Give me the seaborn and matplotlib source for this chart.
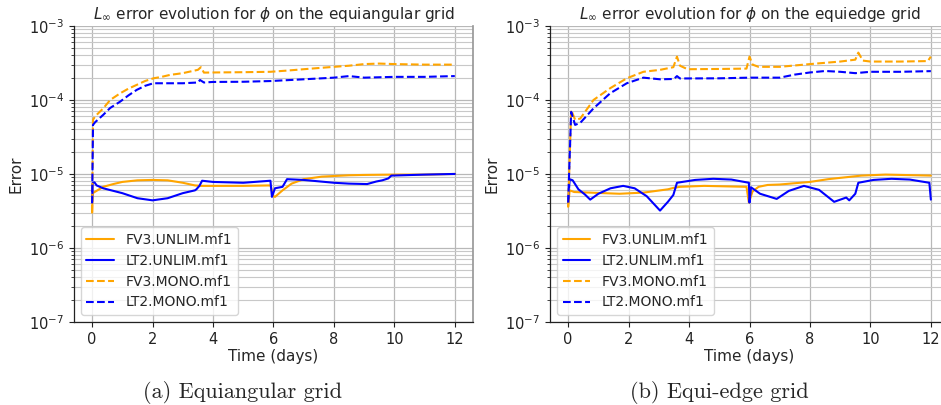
import matplotlib
matplotlib.use("Agg")
import matplotlib.pyplot as plt
import seaborn as sns
import pandas as pd

# ---------------- data ----------------
series_names = ["FV3.UNLIM.mf1", "LT2.UNLIM.mf1", "FV3.MONO.mf1", "LT2.MONO.mf1"]
panel_titles = [r"$L_\infty$ error evolution for $\phi$ on the equiangular grid",
                r"$L_\infty$ error evolution for $\phi$ on the equiedge grid"]
captions = ["(a) Equiangular grid", "(b) Equi-edge grid"]
x_ticks = [0, 2, 4, 6, 8, 10, 12]

# Panel (a): equiangular grid
a_fv3u_t = [0, 0.02, 0.37, 0.7, 1.0, 1.5, 2.0, 2.5, 3.0, 3.4, 3.6, 4.0, 5.0, 5.9, 6.0, 6.05,
            6.3, 6.6, 7.0, 7.6, 8.5, 9.0, 10.0, 11.0, 12.0]
a_fv3u_v = [3.0e-6, 5.5e-6, 6.7e-6, 7.3e-6, 7.8e-6, 8.2e-6, 8.3e-6, 8.2e-6, 7.6e-6, 7.0e-6,
            6.9e-6, 6.9e-6, 6.9e-6, 7.0e-6, 5.0e-6, 4.9e-6, 6.0e-6, 7.4e-6, 8.5e-6, 9.2e-6,
            9.6e-6, 9.7e-6, 9.8e-6, 9.8e-6, 1.0e-5]

a_lt2u_t = [0, 0.02, 0.08, 0.15, 0.37, 1.0, 1.5, 2.0, 2.5, 3.0, 3.4, 3.45, 3.55, 3.64, 4.0,
            5.0, 5.9, 5.95, 6.05, 6.3, 6.45, 7.0, 8.0, 8.5, 9.1, 9.4, 9.6, 9.8, 9.9, 11.0, 12.0]
a_lt2u_v = [4.2e-6, 7.6e-6, 7.7e-6, 7.0e-6, 6.4e-6, 5.5e-6, 4.7e-6, 4.4e-6, 4.7e-6, 5.5e-6,
            6.0e-6, 6.2e-6, 6.9e-6, 8.1e-6, 7.8e-6, 7.6e-6, 8.1e-6, 4.9e-6, 6.4e-6, 6.7e-6,
            8.5e-6, 8.3e-6, 7.6e-6, 7.4e-6, 7.3e-6, 7.9e-6, 8.2e-6, 8.7e-6, 9.5e-6, 9.8e-6, 1.0e-5]

a_fv3m_t = [0, 0.03, 0.1, 0.37, 0.6, 0.93, 1.2, 1.48, 1.75, 2.03, 2.3, 2.58, 3.0, 3.5, 3.6,
            3.7, 4.0, 5.0, 5.9, 6.5, 7.0, 7.5, 8.0, 8.5, 9.0, 9.5, 10.0, 11.0, 12.0]
a_fv3m_v = [3.0e-6, 5.4e-5, 6.0e-5, 7.7e-5, 1.0e-4, 1.23e-4, 1.42e-4, 1.6e-4, 1.8e-4, 1.96e-4,
            2.05e-4, 2.18e-4, 2.3e-4, 2.55e-4, 2.77e-4, 2.34e-4, 2.35e-4, 2.37e-4, 2.4e-4,
            2.5e-4, 2.6e-4, 2.7e-4, 2.8e-4, 2.9e-4, 3.05e-4, 3.1e-4, 3.05e-4, 3.0e-4, 3.0e-4]

a_lt2m_t = [0, 0.03, 0.1, 0.37, 0.6, 0.93, 1.2, 1.48, 1.75, 2.03, 2.58, 3.0, 3.5, 3.57, 3.7,
            4.0, 5.0, 5.9, 7.0, 8.0, 8.5, 9.0, 10.0, 11.0, 12.0]
a_lt2m_v = [4.0e-6, 4.6e-5, 5.0e-5, 6.3e-5, 7.8e-5, 9.5e-5, 1.15e-4, 1.37e-4, 1.55e-4, 1.68e-4,
            1.68e-4, 1.68e-4, 1.72e-4, 1.86e-4, 1.72e-4, 1.75e-4, 1.76e-4, 1.8e-4, 1.9e-4,
            2.0e-4, 2.1e-4, 2.0e-4, 2.05e-4, 2.05e-4, 2.1e-4]

# Panel (b): equi-edge grid
b_fv3u_t = [0, 0.05, 0.2, 0.7, 1.7, 2.5, 3.3, 3.5, 3.7, 4.5, 5.9, 5.98, 6.1, 6.3, 6.6, 7.0,
            8.0, 8.6, 9.7, 10.5, 11.0, 12.0]
b_fv3u_v = [3.6e-6, 6.0e-6, 5.7e-6, 5.6e-6, 5.4e-6, 5.6e-6, 6.2e-6, 6.5e-6, 6.7e-6, 6.9e-6,
            6.7e-6, 4.1e-6, 5.8e-6, 6.7e-6, 7.1e-6, 7.2e-6, 7.8e-6, 8.5e-6, 9.5e-6, 9.8e-6,
            9.7e-6, 9.5e-6]

b_lt2u_t = [0, 0.05, 0.15, 0.34, 0.55, 0.73, 1.0, 1.4, 1.82, 2.2, 2.6, 3.04, 3.3, 3.48, 3.6,
            4.2, 4.8, 5.4, 5.98, 6.0, 6.05, 6.35, 6.9, 7.3, 7.8, 8.3, 8.8, 9.2, 9.3, 9.5, 9.6,
            10.1, 10.7, 11.3, 11.95, 12.0]
b_lt2u_v = [4.1e-6, 8.5e-6, 8.2e-6, 6.2e-6, 5.3e-6, 4.5e-6, 5.4e-6, 6.4e-6, 6.9e-6, 6.4e-6,
            5.0e-6, 3.2e-6, 4.2e-6, 5.2e-6, 7.6e-6, 8.3e-6, 8.6e-6, 8.4e-6, 7.6e-6, 4.1e-6,
            6.6e-6, 5.4e-6, 4.6e-6, 5.9e-6, 6.9e-6, 6.1e-6, 4.2e-6, 4.8e-6, 4.4e-6, 5.4e-6,
            7.6e-6, 8.3e-6, 8.6e-6, 8.4e-6, 7.6e-6, 4.5e-6]

b_fv3m_t = [0, 0.1, 0.23, 0.4, 0.84, 1.39, 1.94, 2.49, 3.04, 3.48, 3.6, 3.7, 3.95, 5.0, 5.9,
            6.0, 6.1, 6.3, 7.0, 8.0, 9.0, 9.5, 9.6, 9.75, 10.0, 11.0, 11.9, 12.0]
b_fv3m_v = [3.6e-6, 7.3e-5, 5.4e-5, 5.6e-5, 1.0e-4, 1.44e-4, 1.96e-4, 2.4e-4, 2.55e-4, 2.77e-4,
            3.85e-4, 2.9e-4, 2.6e-4, 2.62e-4, 2.65e-4, 3.85e-4, 3.0e-4, 2.8e-4, 2.8e-4, 3.05e-4,
            3.3e-4, 3.5e-4, 4.36e-4, 3.4e-4, 3.3e-4, 3.3e-4, 3.35e-4, 3.85e-4]

b_lt2m_t = [0, 0.1, 0.23, 0.4, 0.84, 1.39, 1.94, 2.49, 3.04, 3.5, 3.6, 3.7, 5.0, 6.0, 7.0,
            7.5, 8.0, 8.5, 9.0, 9.5, 10.0, 11.0, 12.0]
b_lt2m_v = [4.1e-6, 6.9e-5, 4.6e-5, 4.9e-5, 7.7e-5, 1.23e-4, 1.68e-4, 2.0e-4, 1.9e-4, 1.92e-4,
            2.1e-4, 1.95e-4, 1.96e-4, 2.0e-4, 2.0e-4, 2.2e-4, 2.35e-4, 2.46e-4, 2.4e-4, 2.3e-4,
            2.4e-4, 2.4e-4, 2.45e-4]

panels = [
    [(a_fv3u_t, a_fv3u_v), (a_lt2u_t, a_lt2u_v), (a_fv3m_t, a_fv3m_v), (a_lt2m_t, a_lt2m_v)],
    [(b_fv3u_t, b_fv3u_v), (b_lt2u_t, b_lt2u_v), (b_fv3m_t, b_fv3m_v), (b_lt2m_t, b_lt2m_v)],
]
series_colors = ["orange", "blue", "orange", "blue"]
series_styles = ["-", "-", "--", "--"]

# ---------------- figure ----------------
sns.set_theme(style="ticks")
plt.rcParams["font.family"] = ["DejaVu Sans"]
plt.rcParams["mathtext.fontset"] = "dejavusans"

fig = plt.figure(figsize=(9.41, 4.05), dpi=100)
ax_w, ax_h = 0.424, 0.731
ax_bottom = 0.205
lefts = [0.0786, 0.5845]
caption_x = [0.258, 0.765]

for p in range(2):
    ax = fig.add_axes([lefts[p], ax_bottom, ax_w, ax_h])
    for k in range(4):
        t, v = panels[p][k]
        df = pd.DataFrame({"Time (days)": t, "Error": v})
        sns.lineplot(data=df, x="Time (days)", y="Error", ax=ax, color=series_colors[k],
                     linestyle=series_styles[k], linewidth=1.5, label=series_names[k],
                     estimator=None, sort=False)
    ax.set_yscale("log")
    ax.set_ylim(1e-7, 1e-3)
    ax.set_xlim(-0.6, 12.6)
    ax.set_xticks(x_ticks)
    ax.grid(True, which="major", color="#b8b8b8", linewidth=0.9)
    ax.grid(True, which="minor", axis="y", color="#c8c8c8", linewidth=0.8)
    ax.set_axisbelow(True)
    ax.tick_params(axis="both", which="major", labelsize=10.5, length=3.5, width=0.8,
                   colors="#222222")
    ax.tick_params(axis="y", which="minor", length=2, width=0.6)
    ax.set_xlabel("Time (days)", fontsize=11, labelpad=2)
    ax.set_ylabel("Error", fontsize=11)
    ax.set_title(panel_titles[p], fontsize=11, pad=5)
    for side in ["left", "bottom"]:
        ax.spines[side].set_color("#222222")
        ax.spines[side].set_linewidth(0.9)
    ax.spines["top"].set_visible(False)
    ax.spines["right"].set_color("#999999")
    leg = ax.legend(loc="lower left", fontsize=10, frameon=True, handlelength=2.0)
    fig.text(caption_x[p], 0.03, captions[p], ha="center", va="center",
             fontsize=16, family="cmr10")

fig.savefig("out.png", dpi=100)
